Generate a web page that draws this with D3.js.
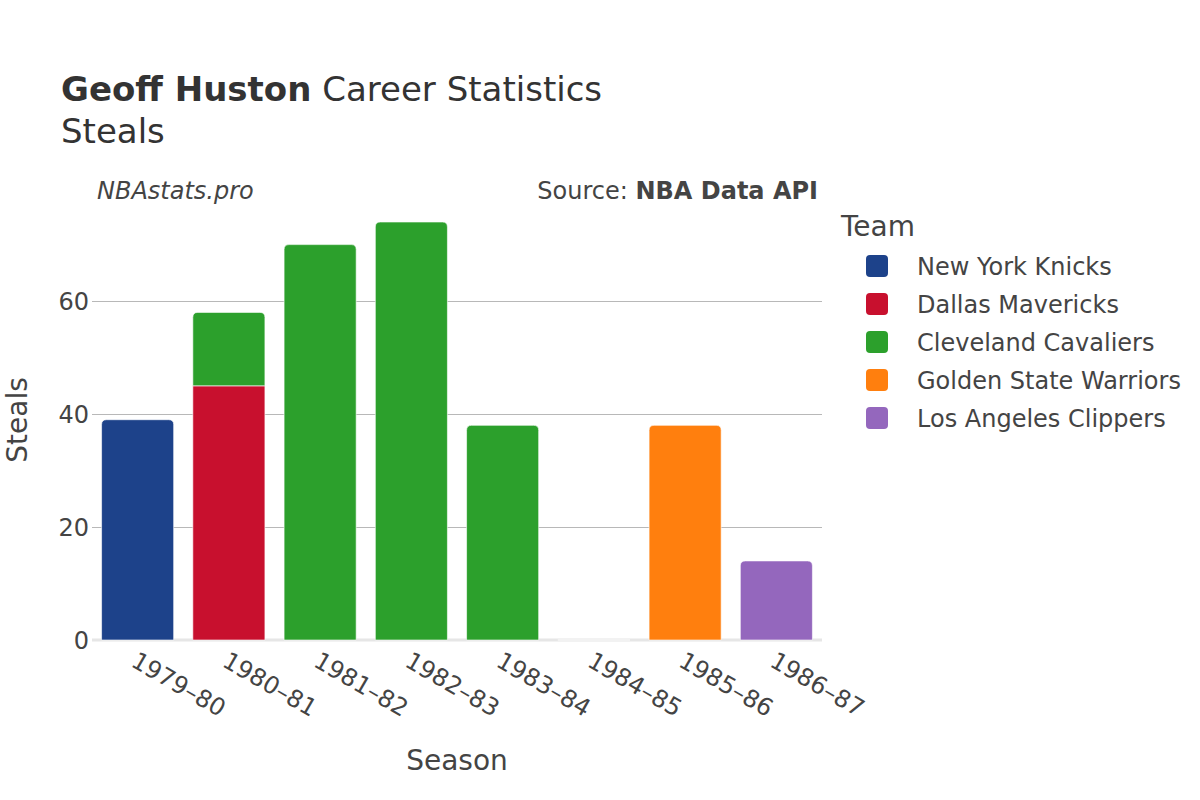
<!DOCTYPE html>
<html>
<head>
<meta charset="utf-8">
<script src="https://cdn.jsdelivr.net/npm/d3@7"></script>
<style>
  body { margin: 0; background: #fff; }
  text { font-family: "DejaVu Sans", sans-serif; }
</style>
</head>
<body>
<div id="chart"></div>
<script>
// data
const seasons = ["1979–80", "1980–81", "1981–82", "1982–83", "1983–84", "1984–85", "1985–86", "1986–87"];
const teams = ["New York Knicks", "Dallas Mavericks", "Cleveland Cavaliers", "Golden State Warriors", "Los Angeles Clippers"];
const knicks    = [39, null, null, null, null, null, null, null];
const mavericks = [null, 45, null, null, null, null, null, null];
const cavaliers = [null, 13, 70, 74, 38, 0, null, null];
const warriors  = [null, null, null, null, null, null, 38, null];
const clippers  = [null, null, null, null, null, null, null, 14];
const yTicks = [0, 20, 40, 60];

const series = [knicks, mavericks, cavaliers, warriors, clippers];
const teamColors = ["#1d428a", "#c8102e", "#2ca02c", "#ff7f0e", "#9467bd"];

let width = 1200, height = 800;
let margin = {left: 92, right: 378, top: 200, bottom: 160};

let svg = d3.select("#chart").append("svg")
  .attr("width", width)
  .attr("height", height);

let x = d3.scaleBand()
  .domain(seasons)
  .range([margin.left, width - margin.right])
  .paddingInner(0.21)
  .paddingOuter(0.105);

let y = d3.scaleLinear()
  .domain([0, 77.9])
  .range([height - margin.bottom, margin.top]);

// grid
svg.append("g").selectAll("line")
  .data(yTicks.filter(d => d > 0))
  .enter().append("line")
  .attr("x1", margin.left).attr("x2", width - margin.right)
  .attr("y1", d => Math.round(y(d)) + 0.5).attr("y2", d => Math.round(y(d)) + 0.5)
  .attr("stroke", "#b8b8b8").attr("stroke-width", 1);

// zero line
svg.append("line")
  .attr("x1", margin.left).attr("x2", width - margin.right)
  .attr("y1", y(0)).attr("y2", y(0))
  .attr("stroke", "#e6e6e6").attr("stroke-width", 3);

// stacked bars
let segs = [];
seasons.forEach(function(s, i) {
  let base = 0;
  let items = [];
  series.forEach(function(arr, t) {
    if (arr[i] === null) return;
    items.push({season: s, team: t, y0: base, y1: base + arr[i]});
    base += arr[i];
  });
  items.forEach((d, k) => { d.top = (k === items.length - 1); segs.push(d); });
});

function barPath(d) {
  let x0 = x(d.season), w = x.bandwidth();
  let yb = y(d.y0), yt = y(d.y1);
  let r = d.top ? Math.min(5, (yb - yt) / 2, w / 2) : 0;
  return "M" + x0 + "," + yb +
    "V" + (yt + r) +
    "Q" + x0 + "," + yt + " " + (x0 + r) + "," + yt +
    "H" + (x0 + w - r) +
    "Q" + (x0 + w) + "," + yt + " " + (x0 + w) + "," + (yt + r) +
    "V" + yb + "Z";
}

svg.append("g").selectAll("path")
  .data(segs)
  .enter().append("path")
  .attr("d", barPath)
  .attr("fill", d => teamColors[d.team])
  .attr("stroke", "rgba(255,255,255,0.6)")
  .attr("stroke-width", 1);

// y axis labels
svg.append("g").selectAll("text")
  .data(yTicks)
  .enter().append("text")
  .attr("x", margin.left - 3)
  .attr("y", d => y(d))
  .attr("dy", "0.36em")
  .attr("text-anchor", "end")
  .attr("fill", "#444")
  .style("font-size", "24px")
  .text(d => d);

// x axis labels
svg.append("g").selectAll("text")
  .data(seasons)
  .enter().append("text")
  .attr("transform", d => "translate(" + (x(d) + x.bandwidth() / 2 + 1) + "," + (height - margin.bottom + 10) + ") rotate(30)")
  .attr("dy", "0.75em")
  .attr("text-anchor", "start")
  .attr("fill", "#444")
  .style("font-size", "24px")
  .text(d => d);

// axis titles
svg.append("text")
  .attr("x", (margin.left + width - margin.right) / 2)
  .attr("y", 770)
  .attr("text-anchor", "middle")
  .attr("fill", "#444")
  .style("font-size", "28px")
  .text("Season");

svg.append("text")
  .attr("transform", "translate(27," + ((margin.top + height - margin.bottom) / 2) + ") rotate(-90)")
  .attr("text-anchor", "middle")
  .attr("fill", "#444")
  .style("font-size", "28px")
  .text("Steals");

// title
let title = svg.append("text")
  .attr("x", 61).attr("y", 101)
  .attr("fill", "#333")
  .style("font-size", "34px");
title.append("tspan").attr("font-weight", "bold").text("Geoff Huston");
title.append("tspan").text(" Career Statistics");

svg.append("text")
  .attr("x", 61).attr("y", 143)
  .attr("fill", "#333")
  .style("font-size", "34px")
  .text("Steals");

svg.append("text")
  .attr("x", 97).attr("y", 199)
  .attr("fill", "#444")
  .style("font-size", "24px")
  .style("font-style", "italic")
  .text("NBAstats.pro");

let src = svg.append("text")
  .attr("x", 818).attr("y", 199)
  .attr("text-anchor", "end")
  .attr("fill", "#444")
  .style("font-size", "24px");
src.append("tspan").text("Source: ");
src.append("tspan").attr("font-weight", "bold").text("NBA Data API");

// legend
let legend = svg.append("g");
legend.append("text")
  .attr("x", 841).attr("y", 236)
  .attr("fill", "#444")
  .style("font-size", "28px")
  .text("Team");

let items = legend.selectAll("g.item")
  .data(teams)
  .enter().append("g")
  .attr("class", "item")
  .attr("transform", (d, i) => "translate(0," + (266 + i * 38) + ")");

items.append("rect")
  .attr("x", 866).attr("y", -11)
  .attr("width", 22).attr("height", 22)
  .attr("rx", 4)
  .attr("fill", (d, i) => teamColors[i]);

items.append("text")
  .attr("x", 917).attr("y", 0)
  .attr("dy", "0.36em")
  .attr("fill", "#444")
  .style("font-size", "24px")
  .text(d => d);
</script>
</body>
</html>
